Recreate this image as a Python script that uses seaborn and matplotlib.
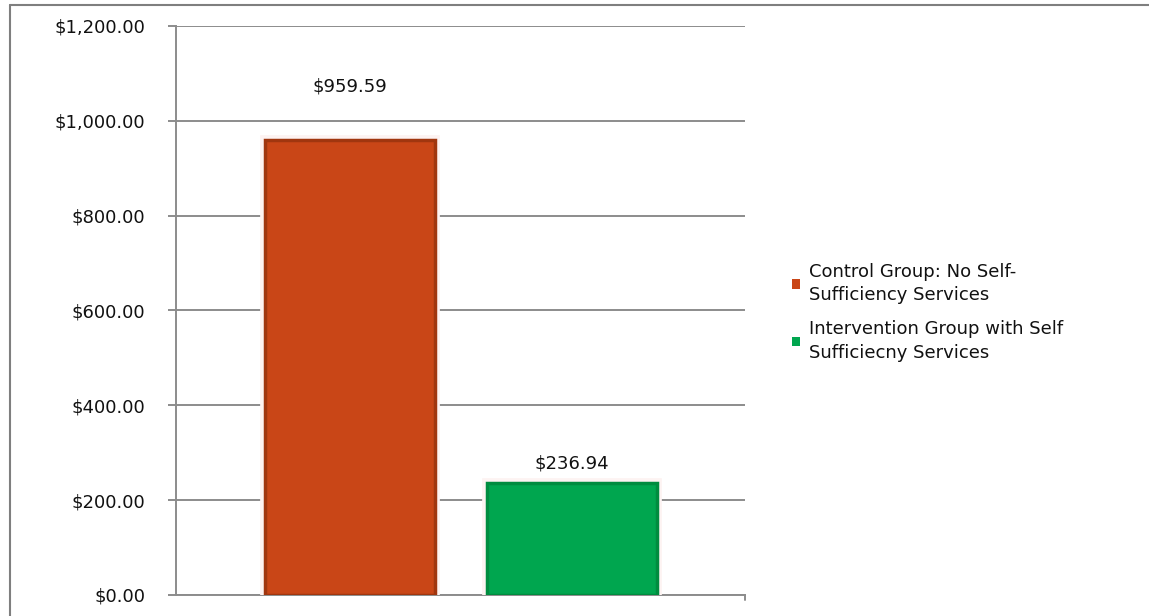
import matplotlib
matplotlib.use("Agg")
import matplotlib.pyplot as plt
import matplotlib.patheffects as pe
from matplotlib.lines import Line2D
from matplotlib.patches import Patch
import seaborn as sns
import pandas as pd

groups = ["Control Group: No Self-\nSufficiency Services",
          "Intervention Group with Self\nSufficiecny Services"]
costs = [959.59, 236.94]
value_labels = ["$959.59", "$236.94"]
y_ticks = [0, 200, 400, 600, 800, 1000, 1200]
y_tick_labels = ["$0.00", "$200.00", "$400.00", "$600.00", "$800.00",
                 "$1,000.00", "$1,200.00"]

fill_colors = ["#c94617", "#00a64f"]
edge_colors = ["#a0360f", "#008c3f"]
label_offsets = [32, 7.5]  # points above bar tops

sns.set_theme(style="white")
plt.rcParams["font.family"] = ["DejaVu Sans"]

df = pd.DataFrame({"group": groups, "cost": costs})

fig = plt.figure(figsize=(11.49, 6.16), dpi=100)
ax = fig.add_axes([0.1532, 0.0341, 0.4952, 0.9237])

sns.barplot(data=df, x="group", y="cost", hue="group", palette=fill_colors,
            saturation=1, width=0.766, dodge=False, legend=False, ax=ax,
            zorder=3)

for bar, ec in zip(ax.patches, edge_colors):
    bar.set_edgecolor(ec)
    bar.set_linewidth(2.5)
    bar.set_path_effects([pe.Stroke(linewidth=7, foreground="#fdf3f2"),
                          pe.Normal()])

for bar, txt, off in zip(ax.patches, value_labels, label_offsets):
    ax.annotate(txt, (bar.get_x() + bar.get_width() / 2, bar.get_height()),
                xytext=(0, off), textcoords="offset points",
                ha="center", va="bottom", fontsize=13, color="#111111")

ax.set_xlim(-0.784, 1.779)
ax.set_ylim(0, 1200)
ax.set_yticks(y_ticks)
ax.set_yticklabels(y_tick_labels, fontsize=13, color="#111111")
ax.set_xticks([])
ax.set_xlabel("")
ax.set_ylabel("")
ax.yaxis.grid(True, color="#8c8c8c", linewidth=1.4, zorder=0)
ax.set_axisbelow(True)
ax.tick_params(axis="y", left=True, length=6, width=1.4, color="#8c8c8c", pad=16)

for side in ["top", "right"]:
    ax.spines[side].set_visible(False)
for side in ["left", "bottom"]:
    ax.spines[side].set_color("#8c8c8c")
    ax.spines[side].set_linewidth(1.4)

# small tick at the right end of the category axis
ax.plot([1.779, 1.779], [0, -10], color="#8c8c8c", linewidth=1.4,
        clip_on=False, transform=ax.transData)

handles = [Patch(facecolor=c, edgecolor="none") for c in fill_colors]
leg = fig.legend(handles, groups, loc="upper left",
                 bbox_to_anchor=(0.675, 0.6), frameon=False,
                 fontsize=13, handlelength=0.45, handleheight=0.45,
                 handletextpad=0.5, labelspacing=0.9)
for t in leg.get_texts():
    t.set_color("#111111")
    t.set_linespacing(1.38)

# outer frame of the chart area
fig.add_artist(Line2D([10 / 1149, 10 / 1149], [0, 1 - 5 / 616],
                      color="#7f7f7f", linewidth=1.5))
fig.add_artist(Line2D([10 / 1149, 1], [1 - 5 / 616, 1 - 5 / 616],
                      color="#7f7f7f", linewidth=1.5))

fig.savefig("out.png", dpi=100)
